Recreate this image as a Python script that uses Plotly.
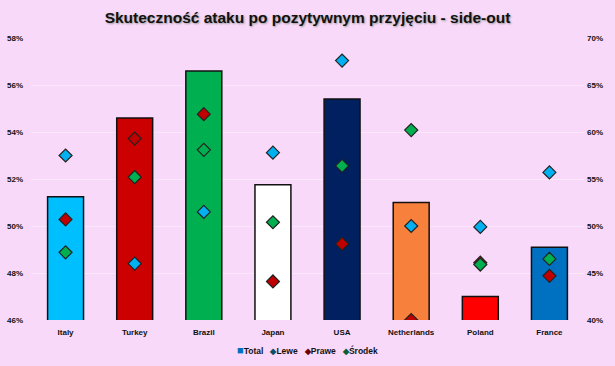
import plotly.graph_objects as go

categories = ["Italy", "Turkey", "Brazil", "Japan", "USA", "Netherlands", "Poland", "France"]
total = [51.25, 54.6, 56.6, 51.76, 55.4, 51.0, 47.0, 49.1]
lewe = [57.5, 46.0, 51.5, 57.8, 67.6, 50.0, 49.9, 55.7]
prawe = [50.7, 59.3, 61.9, 44.1, 48.1, 40.0, 46.1, 44.7]
srodek = [47.2, 55.2, 58.1, 50.4, 56.4, 60.2, 45.9, 46.5]
bar_colors = ["#00BFFF", "#CC0000", "#00B050", "#FFFFFF", "#002060", "#F7803C", "#FF0000", "#0070C0"]
left_ticks = [46, 48, 50, 52, 54, 56, 58]
right_ticks = [40, 45, 50, 55, 60, 65, 70]
series_names = ["Total", "Lewe", "Prawe", "Środek"]

bg = "#F9D9F9"
font_family = "Liberation Sans, Arial, sans-serif"

fig = go.Figure()
fig.add_trace(go.Bar(
    x=categories, y=total, name=series_names[0],
    marker=dict(color=bar_colors, line=dict(color="#111111", width=1.5)),
    width=0.52, base=0, showlegend=False,
))

def add_markers(vals, name, color):
    fig.add_trace(go.Scatter(
        x=categories, y=vals, name=name, mode="markers", yaxis="y2",
        showlegend=False,
        marker=dict(symbol="diamond", size=10, color=color,
                    line=dict(color="#222222", width=1.2)),
    ))

add_markers(lewe, series_names[1], "#00B0F0")
add_markers(prawe, series_names[2], "#C00000")
add_markers(srodek, series_names[3], "#00B050")

legend_syms = [("■", "#0070C0", 11), ("◆", "#0B4F6C", 8), ("◆", "#6E0000", 8), ("◆", "#0B5E34", 8)]
legend_html = "   ".join(
    f"<span style='color:{c};font-size:{fs}px'>{s}</span>{n}"
    for (s, c, fs), n in zip(legend_syms, series_names)
)

fig.update_layout(
    width=615, height=366,
    paper_bgcolor=bg, plot_bgcolor=bg,
    margin=dict(l=31, r=31, t=38, b=46),
    font=dict(family=font_family, size=8, color="#111111", weight="bold"),
    title=dict(
        text="Skuteczność ataku po pozytywnym przyjęciu - side-out",
        x=0.5, xanchor="center", y=1 - 18 / 366, yanchor="middle",
        font=dict(family=font_family, size=15.5, color="#111111", weight="bold",
                  shadow="1px 1px 2px #999999"),
    ),
    showlegend=False,
    xaxis=dict(showgrid=False, showline=False, ticks="", ticklabelstandoff=6,
               tickfont=dict(size=8, weight="bold")),
    yaxis=dict(range=[46, 58], tickvals=left_ticks, ticktext=[f"{v}%" for v in left_ticks],
               showgrid=True, gridcolor="#FBE7FB", gridwidth=1, zeroline=False,
               ticklabelstandoff=7,
               tickfont=dict(size=8, weight="bold"), automargin=False),
    yaxis2=dict(range=[40, 70], tickvals=right_ticks, ticktext=[f"{v}%" for v in right_ticks],
                overlaying="y", side="right", showgrid=False, zeroline=False,
                ticklabelstandoff=2,
                tickfont=dict(size=8, weight="bold"), automargin=False),
    barmode="overlay",
    annotations=[dict(
        text=legend_html, x=0.5, xref="paper", y=-30 / 282, yref="paper",
        xanchor="center", yanchor="middle", showarrow=False,
        font=dict(size=8.5, weight="bold", color="#111111"),
    )],
)

fig.write_html("out.html", config={"displayModeBar": False},
               post_script="document.body.style.margin='0';document.body.style.overflow='hidden';")
